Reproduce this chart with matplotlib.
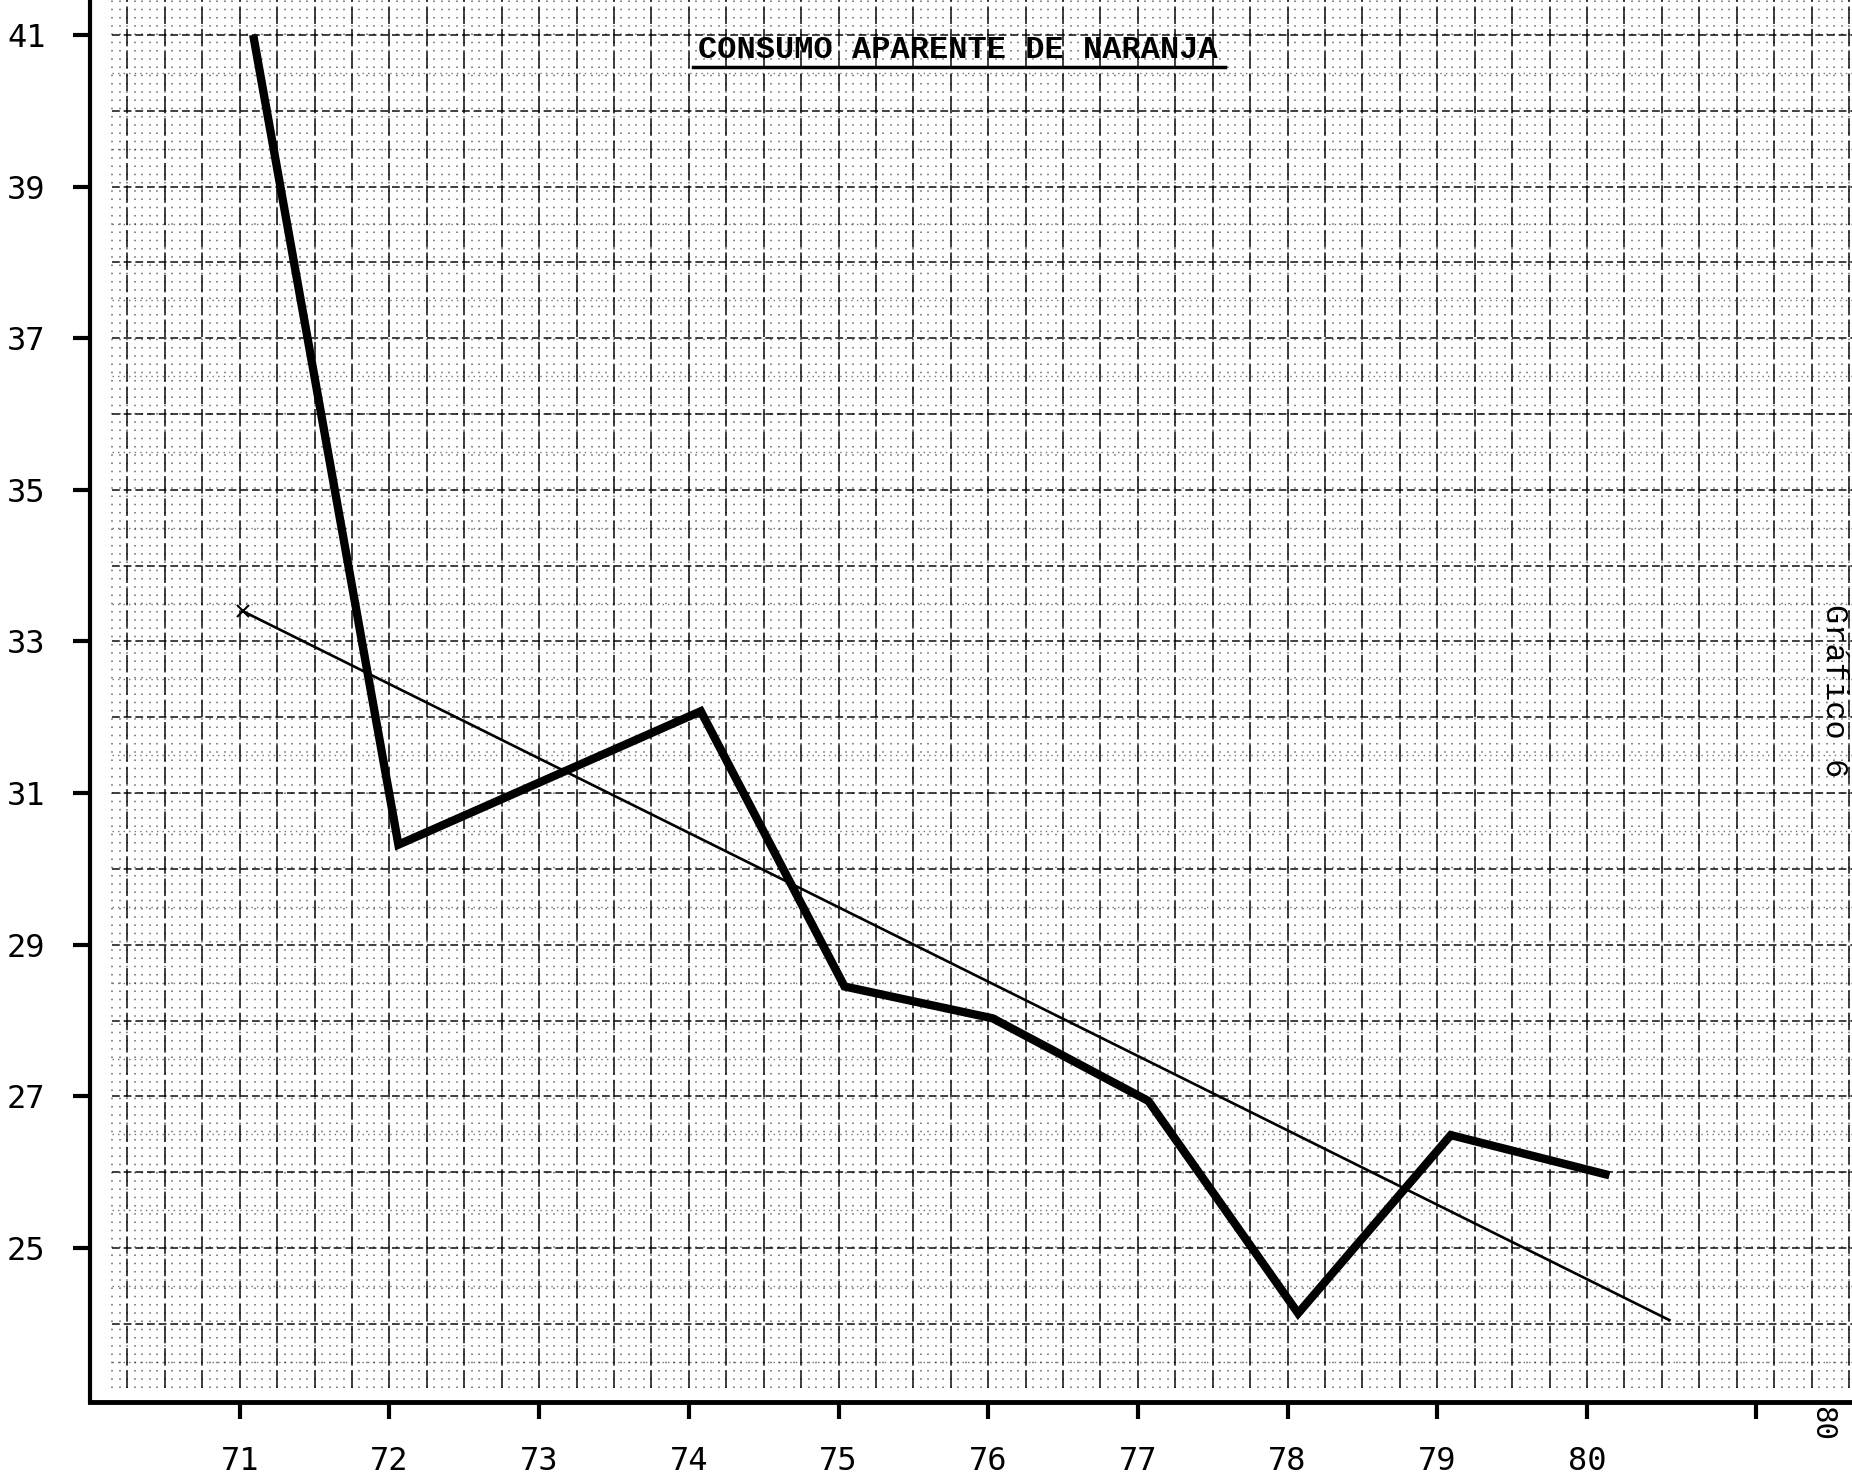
import numpy as np
import matplotlib
matplotlib.use("Agg")
import matplotlib.pyplot as plt
from matplotlib.lines import Line2D

# ---- data ----
years = [71.09, 72.06, 74.08, 75.04, 76.03, 77.07, 78.07, 79.09, 80.15]
consumo = [41.0, 30.32, 32.08, 28.45, 28.03, 26.94, 24.14, 26.49, 25.96]

trend_x = [71.02, 80.55]
trend_y = [33.4, 24.05]

x_ticks = [71, 72, 73, 74, 75, 76, 77, 78, 79, 80]
x_labels = ["71", "72", "73", "74", "75", "76", "77", "78", "79", "80"]
y_ticks = [25, 27, 29, 31, 33, 35, 37, 39, 41]
y_labels = ["25", "27", "29", "31", "33", "35", "37", "39", "41"]

title = "CONSUMO APARENTE DE NARANJA"
side_label = "Gráfico 6"
extra_label = "80"
extra_tick = 81.13

W, H = 1852, 1478
fig = plt.figure(figsize=(W / 100, H / 100), dpi=100, facecolor="white")
ax = fig.add_axes([90 / W, 76 / H, 1 - 90 / W, 1 - 76 / H])
ax.set_xlim(70.0, 81.77)
ax.set_ylim(22.97, 41.46)
ax.set_facecolor("white")

# ---- graph-paper texture ----
xmin, xmax = 70.15, 81.77
ymin, ymax = 23.15, 41.46
# fine dot matrix
ax.vlines(np.arange(70.15, 81.8, 0.05), ymin, ymax, colors="#000000",
          linewidth=1.1, linestyles=[(0, (1.0, 4.4))], alpha=0.6, zorder=0)
ax.hlines(np.arange(23.5, 41.5, 1.0), xmin, xmax, colors="#000000",
          linewidth=1.0, linestyles=[(0, (1.0, 3.0))], alpha=0.55, zorder=0)
# quarter-year vertical rules
ax.vlines(np.arange(70.25, 81.8, 0.25), ymin, ymax, colors="#000000",
          linewidth=1.4, linestyles=[(0, (9, 2.5))], alpha=0.75, zorder=0)
# unit horizontal rules
ax.hlines(np.arange(24, 42, 1.0), xmin, xmax, colors="#000000",
          linewidth=1.4, linestyles=[(0, (4, 2.0))], alpha=0.75, zorder=0)

# ---- data ----
ax.plot(years, consumo, color="black", linewidth=6.0,
        solid_joinstyle="miter", solid_capstyle="butt", zorder=5)
ax.plot(trend_x, trend_y, color="black", linewidth=1.9, marker="x",
        markevery=[0], markersize=9, markeredgewidth=1.5, zorder=4)

# ---- axes ----
for s in ("top", "right"):
    ax.spines[s].set_visible(False)
ax.spines["left"].set_linewidth(3.0)
ax.spines["bottom"].set_linewidth(3.5)

tick_font = dict(family="DejaVu Sans Mono", size=23)
ax.set_xticks(x_ticks + [extra_tick])
ax.set_xticklabels(x_labels + [""], fontdict=tick_font)
ax.set_yticks(y_ticks)
ax.set_yticklabels(y_labels, fontdict=tick_font)
ax.tick_params(axis="both", which="major", direction="out", length=12,
               width=3.0, colors="black")
ax.tick_params(axis="x", pad=20)
ax.tick_params(axis="y", pad=20)

ax.text(81.57, 22.92, extra_label, rotation=-90, ha="center", va="top",
        fontsize=21, family="DejaVu Sans Mono", transform=ax.transData,
        clip_on=False)

# ---- title with underline ----
fig.text(958 / W, 1 - 50 / H, title, ha="center", va="center",
         family="Liberation Mono", fontsize=23, fontweight="bold",
         color="black")
fig.add_artist(Line2D([693 / W, 1225 / W], [1 - 67 / H, 1 - 67 / H],
                      transform=fig.transFigure, color="black", linewidth=2.5))

fig.text(1834 / W, 1 - 691 / H, side_label, rotation=-90, ha="center",
         va="center", family="Liberation Mono", fontsize=23, color="black")

fig.savefig("out.png", dpi=100, facecolor="white")
